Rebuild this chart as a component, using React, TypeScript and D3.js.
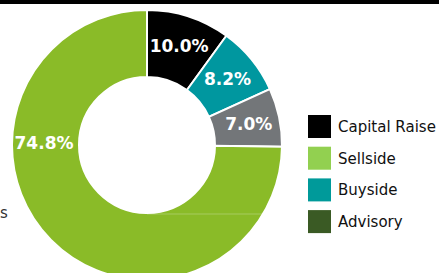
import React from "react";
import { pie as d3pie, arc as d3arc } from "d3";

const sliceNames = ["Capital Raise", "Buyside", "Other", "Sellside"];
const sliceValues = [10.0, 8.2, 7.0, 74.8];
const sliceColors = ["#000000", "#00979f", "#737679", "#8abb28"];
const sliceLabels = ["10.0%", "8.2%", "7.0%", "74.8%"];

const legendNames = ["Capital Raise", "Sellside", "Buyside", "Advisory"];
const legendColors = ["#000000", "#92d050", "#009a9a", "#3a5a24"];

const W = 439;
const H = 273;
const cx = 147;
const cy = 145;
const outerR = 135;
const innerR = 68;

export default function App() {
  const pie = d3pie<number>().sort(null).value((d) => d);
  const arcs = pie(sliceValues);
  const arc = d3arc<any>().innerRadius(innerR).outerRadius(outerR);
  const labelR = 104;
  const labelArc = d3arc<any>().innerRadius(labelR).outerRadius(labelR);

  const font = "Verdana, 'DejaVu Sans', sans-serif";

  return (
    <div style={{ position: "fixed", left: 0, top: 0, width: W, height: H, background: "#fff" }}>
      <svg width={W} height={H} style={{ display: "block" }}>
        {/* top rule */}
        <rect x={0} y={0} width={W} height={4} fill="#000" />

        {/* text cut by the left edge in the original */}
        <text x={0} y={218} fontFamily={font} fontSize={15} fill="#333">
          s
        </text>

        <g transform={`translate(${cx},${cy})`}>
          {arcs.map((a, i) => (
            <path key={sliceNames[i]} d={arc(a) ?? undefined} fill={sliceColors[i]} stroke="#fff" strokeWidth={2} />
          ))}
          {/* faint seam in the big slice */}
          <line x1={0} x2={Math.sqrt(outerR * outerR - (innerR + 1) ** 2) - 1} y1={innerR + 1} y2={innerR + 1} stroke="#fff" strokeOpacity={0.25} strokeWidth={1} />
          {arcs.map((a, i) => {
            let [x, y] = labelArc.centroid(a);
            if (i === 3) {
              x = -labelR + 1;
              y = -2;
            }
            return (
              <text
                key={sliceLabels[i]}
                x={x}
                y={y}
                textAnchor="middle"
                dominantBaseline="central"
                fontFamily={font}
                fontWeight="bold"
                fontSize={17}
                fill="#fff"
              >
                {sliceLabels[i]}
              </text>
            );
          })}
        </g>

        {/* legend */}
        {legendNames.map((name, i) => (
          <g key={name} transform={`translate(308,${115 + i * 31.7})`}>
            <rect width={23} height={23} fill={legendColors[i]} />
            <text x={30} y={17} fontFamily={font} fontSize={15} fill="#111">
              {name}
            </text>
          </g>
        ))}
      </svg>
    </div>
  );
}
